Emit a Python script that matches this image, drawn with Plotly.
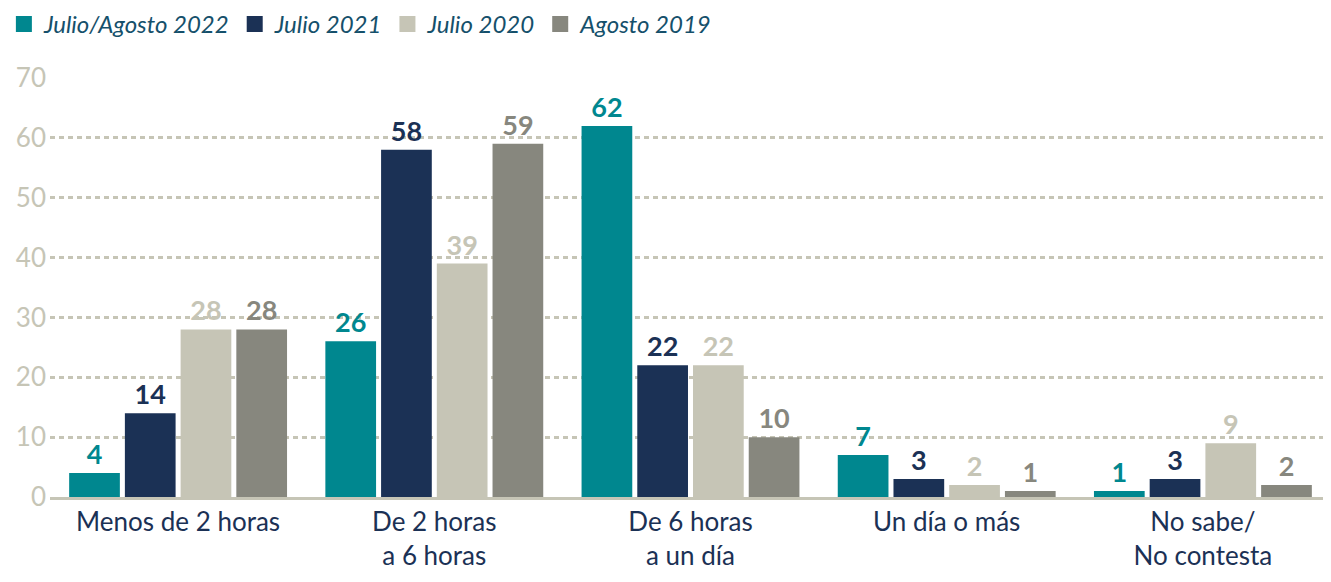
import plotly.graph_objects as go

categories = ["Menos de 2 horas", "De 2 horas<br>a 6 horas", "De 6 horas<br>a un día",
              "Un día o más", "No sabe/<br>No contesta"]
series_names = ["Julio/Agosto 2022", "Julio 2021", "Julio 2020", "Agosto 2019"]
vals_2022 = [4, 26, 62, 7, 1]
vals_2021 = [14, 58, 22, 3, 3]
vals_2020 = [28, 39, 22, 2, 9]
vals_2019 = [28, 59, 10, 1, 2]
colors = ["#00878F", "#1B3155", "#C6C5B6", "#87877E"]

FONT = "Lato, 'Open Sans', sans-serif"

fig = go.Figure()
for name, vals, col in zip(series_names, [vals_2022, vals_2021, vals_2020, vals_2019], colors):
    fig.add_trace(go.Bar(
        x=categories,
        y=vals,
        name=name,
        marker=dict(color=col, line=dict(width=0)),
        text=vals,
        texttemplate="<b>%{text}</b>",
        textposition="outside",
        textfont=dict(color=col, size=27, family=FONT),
        cliponaxis=False,
        showlegend=False,
    ))

# legend-only entries, so the swatches can be bigger squares
for name, col in zip(series_names, colors):
    fig.add_trace(go.Scatter(
        x=[categories[0]],
        y=[None],
        mode="markers",
        name=name,
        marker=dict(symbol="square", size=16, color=col),
        hoverinfo="skip",
    ))

# page body adds an 8px offset, so the figure is slightly smaller than the window
fig.update_layout(
    width=1323,
    height=574,
    margin=dict(l=42, r=0, t=70, b=85, autoexpand=False),
    plot_bgcolor="white",
    paper_bgcolor="white",
    barmode="group",
    bargap=0.13,
    bargroupgap=0.09,
    uniformtext=dict(mode=False),
    font=dict(family=FONT),
    legend=dict(
        orientation="h",
        x=-0.036, xanchor="left",
        y=1.128, yanchor="middle",
        font=dict(size=24, color="#15506B", family=FONT, style="italic"),
        itemwidth=30,
        itemsizing="trace",
        tracegroupgap=0,
    ),
    showlegend=True,
)

fig.update_yaxes(
    range=[0, 70],
    dtick=10,
    showgrid=True,
    gridcolor="#C6C5B6",
    griddash="5px,4px",
    gridwidth=2.5,
    zeroline=False,
    showline=False,
    tickfont=dict(size=26, color="#C6C5B6", family=FONT),
    ticks="",
    ticklabelstandoff=3,
)
fig.update_xaxes(
    showline=True,
    linecolor="#C6C5B6",
    linewidth=3,
    ticks="",
    tickfont=dict(size=26, color="#1B3155", family=FONT),
)

fig.write_html("out.html")
